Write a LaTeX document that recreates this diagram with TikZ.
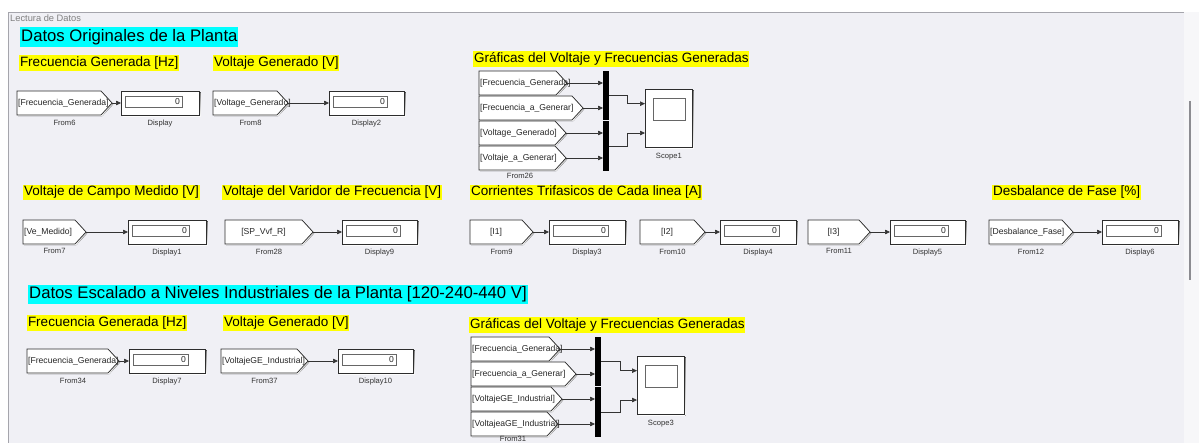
\documentclass[tikz,border=0pt]{standalone}
\usepackage{fontspec}
\setmainfont{Liberation Sans}
\usetikzlibrary{arrows.meta,calc}

\definecolor{canvas}{RGB}{240,240,245}
\definecolor{strip}{RGB}{247,247,249}
\definecolor{framec}{RGB}{165,165,172}
\definecolor{hlcyan}{RGB}{0,255,255}
\definecolor{hlyellow}{RGB}{255,255,0}
\definecolor{edge}{RGB}{45,45,45}
\definecolor{shade}{RGB}{150,150,155}
\definecolor{scrollc}{RGB}{140,140,145}

\tikzset{
  x=1pt, y=-1pt,
  blk/.style={draw=edge, fill=white, line width=0.7pt},
  inset/.style={draw=black!60, fill=white, line width=0.6pt},
  blktext/.style={font=\fontsize{8.6}{9}\selectfont, text=black!85, inner sep=0pt},
  tag c/.style={},
  tag w/.style={anchor=west},
  lbl/.style={font=\fontsize{7.6}{8}\selectfont, text=black!80, inner sep=0pt, anchor=north},
  sig/.style={draw=black!80, line width=0.6pt, -{Triangle[length=5pt,width=4.5pt]}},
  hdy/.style={fill=hlyellow, font=\fontsize{13.5}{15}\selectfont, text height=10pt,
              text depth=3pt, inner xsep=0.8pt, inner ysep=1.2pt, anchor=west},
  hdc/.style={fill=hlcyan, font=\fontsize{16.7}{18}\selectfont, text height=12.5pt,
              text depth=4pt, inner xsep=1pt, inner ysep=1.6pt, anchor=west},
  muxbar/.style={fill=black, draw=none, minimum width=6pt, inner sep=0pt, anchor=north west},
}

% From block: name, left x, centre y, tip x, tag text, caption (may be empty),
% tag placement: c = centred on the body, w = long tag starting at the left edge
\newcommand\fromblk[7]{%
  \fill[shade, shift={(1.2,1.2)}] (#2,#3-12) -- (#4-11,#3-12) -- (#4,#3) -- (#4-11,#3+12) -- (#2,#3+12) -- cycle;
  \path[blk] (#2,#3-12) -- (#4-11,#3-12) -- (#4,#3) -- (#4-11,#3+12) -- (#2,#3+12) -- cycle;
  \coordinate (#1-tip) at (#4,#3);
  \if w#7\node[blktext, anchor=west] (#1) at (#2+1,#3) {#5};
  \else\node[blktext] (#1) at ({(#2+#4-11)/2},#3) {#5};\fi
  \ifx&#6&\else\node[lbl] (#1-lbl) at ({(#2+#4)/2},#3+16.5) {#6};\fi
}

% Display block: name, left x, centre y, right x, caption
\newcommand\dispblk[5]{%
  \fill[shade] (#2+1.5,#3-10.5) rectangle (#4+1.5,#3+13.5);
  \node[blk, minimum width={#4-#2}, minimum height=24, inner sep=0pt, anchor=west] (#1) at (#2,#3) {};
  \draw[inset] (#2+4,#3-7) rectangle (#4-17,#3+4);
  \node[blktext, anchor=east] (#1-v) at (#4-19,#3-1.5) {0};
  \node[lbl] (#1-lbl) at ({(#2+#4)/2},#3+16.5) {#5};
}

% Scope block: name, left x, top y, caption
\newcommand\scopeblk[4]{%
  \fill[shade] (#2+1.5,#3+1.5) rectangle (#2+48.5,#3+59.5);
  \node[blk, minimum width=47, minimum height=58, inner sep=0pt, anchor=north west] (#1) at (#2,#3) {};
  \draw[inset] ([shift={(8,9)}]#1.north west) rectangle ([shift={(-7,31)}]#1.north east);
  \coordinate (#1-in1) at ($(#1.north west)!0.25!(#1.south west)$);
  \coordinate (#1-in2) at ($(#1.north west)!0.75!(#1.south west)$);
  \node[lbl] (#1-lbl) at ([shift={(0,5.5)}]#1.south) {#4};
}

\begin{document}
\begin{tikzpicture}
\clip (0,0) rectangle (1199,443);
\useasboundingbox (0,0) rectangle (1199,443);

% canvas and subsystem frame
\fill[white] (0,0) rectangle (1199,443);
\fill[canvas] (8,12) rectangle (1184,443);
\fill[strip] (1184,12) rectangle (1199,443);
\draw[framec, line width=0.8pt] (8,450) -- (8,12) -- (1184,12);
\draw[scrollc, line width=1.5pt] (1190,101) -- (1190,280);
\node[font=\fontsize{9.3}{10}\selectfont, text=black!50, anchor=west, inner sep=0pt] (frametitle) at (10,18.5) {Lectura de Datos};

% ---------- original plant data ----------
\node[hdc] (h-orig) at (20,37) {Datos Originales de la Planta};
\node[hdy] (h-frec) at (19,63) {Frecuencia Generada [Hz]};
\node[hdy] (h-volt) at (213,63) {Voltaje Generado [V]};
\node[hdy] (h-graf) at (473,59) {Gráficas del Voltaje y Frecuencias Generadas};

\fromblk{from6}{17}{103}{112}{[Frecuencia\_Generada]}{From6}{w}
\dispblk{display}{121}{103}{199}{Display}
\draw[sig] (from6-tip) -- (display.west);

\fromblk{from8}{213}{103}{288}{[Voltage\_Generado]}{From8}{w}
\dispblk{display2}{329}{103}{404}{Display2}
\draw[sig] (from8-tip) -- (display2.west);

% plots of voltage and frequency
\fromblk{f26a}{479}{83}{567}{[Frecuencia\_Generada]}{}{w}
\fromblk{f26b}{479}{108}{583}{[Frecuencia\_a\_Generar]}{}{w}
\fromblk{f26c}{479}{133}{566}{[Voltage\_Generado]}{}{w}
\fromblk{f26d}{479}{158}{566}{[Voltaje\_a\_Generar]}{}{w}
\node[lbl] (from26-lbl) at (520,172.5) {From26};
\node[muxbar, minimum height=49] (mux1a) at (603,71) {};
\node[muxbar, minimum height=50] (mux1b) at (603,121) {};
\foreach \f/\m in {f26a/mux1a, f26b/mux1a, f26c/mux1b, f26d/mux1b}
  \draw[sig] (\f-tip) -- (\f-tip -| \m.west);
\scopeblk{scope1}{645}{89}{Scope1}
\draw[sig] (mux1a.east) -- ++(18,0) |- (scope1-in1);
\draw[sig] (mux1b.east) -- ++(18,0) |- (scope1-in2);

% ---------- second row ----------
\node[hdy] (h-campo) at (23,192.5) {Voltaje de Campo Medido [V]};
\node[hdy] (h-vvf) at (222,192.5) {Voltaje del Varidor de Frecuencia [V]};
\node[hdy] (h-corr) at (470,192.5) {Corrientes Trifasicos de Cada linea [A]};
\node[hdy] (h-desb) at (992,192.5) {Desbalance de Fase [\%]};

\fromblk{from7}{23}{232}{86}{[Ve\_Medido]}{From7}{w}
\dispblk{display1}{128}{232}{206}{Display1}
\draw[sig] (from7-tip) -- (display1.west);

\fromblk{from28}{225}{232}{313}{[SP\_Vvf\_R]}{From28}{c}
\dispblk{display9}{342}{232}{417}{Display9}
\draw[sig] (from28-tip) -- (display9.west);

\fromblk{from9}{470}{232}{533}{[I1]}{From9}{c}
\dispblk{display3}{549}{232}{625}{Display3}
\draw[sig] (from9-tip) -- (display3.west);

\fromblk{from10}{640}{232}{705}{[I2]}{From10}{c}
\dispblk{display4}{720}{232}{796}{Display4}
\draw[sig] (from10-tip) -- (display4.west);

\fromblk{from11}{808}{232}{870}{[I3]}{From11}{c}
\dispblk{display5}{890}{232}{965}{Display5}
\draw[sig] (from11-tip) -- (display5.west);

\fromblk{from12}{989}{232}{1073}{[Desbalance\_Fase]}{From12}{w}
\dispblk{display6}{1102}{232}{1178}{Display6}
\draw[sig] (from12-tip) -- (display6.west);

% ---------- industrial scaled data ----------
\node[hdc] (h-ind) at (28,294.5) {Datos Escalado a Niveles Industriales de la Planta [120-240-440 V]};
\node[hdy] (h-frec2) at (27,323) {Frecuencia Generada [Hz]};
\node[hdy] (h-volt2) at (223,323) {Voltaje Generado [V]};
\node[hdy] (h-graf2) at (469,325) {Gráficas del Voltaje y Frecuencias Generadas};

\fromblk{from34}{27}{361}{119}{[Frecuencia\_Generada]}{From34}{w}
\dispblk{display7}{129}{361}{205}{Display7}
\draw[sig] (from34-tip) -- (display7.west);

\fromblk{from37}{221}{361}{308}{[VoltajeGE\_Industrial]}{From37}{w}
\dispblk{display10}{338}{361}{413}{Display10}
\draw[sig] (from37-tip) -- (display10.west);

\fromblk{f31a}{471}{349}{560}{[Frecuencia\_Generada]}{}{w}
\fromblk{f31b}{471}{374}{576}{[Frecuencia\_a\_Generar]}{}{w}
\fromblk{f31c}{471}{399}{562}{[VoltajeGE\_Industrial]}{}{w}
\fromblk{f31d}{471}{424}{558}{[VoltajeaGE\_Industrial]}{}{w}
\node[lbl] (from31-lbl) at (513,436) {From31};
\node[muxbar, minimum height=49] (mux3a) at (595,337) {};
\node[muxbar, minimum height=50] (mux3b) at (595,387) {};
\foreach \f/\m in {f31a/mux3a, f31b/mux3a, f31c/mux3b, f31d/mux3b}
  \draw[sig] (\f-tip) -- (\f-tip -| \m.west);
\scopeblk{scope3}{637}{356}{Scope3}
\draw[sig] (mux3a.east) -- ++(19,0) |- (scope3-in1);
\draw[sig] (mux3b.east) -- ++(19,0) |- (scope3-in2);
\end{tikzpicture}
\end{document}
